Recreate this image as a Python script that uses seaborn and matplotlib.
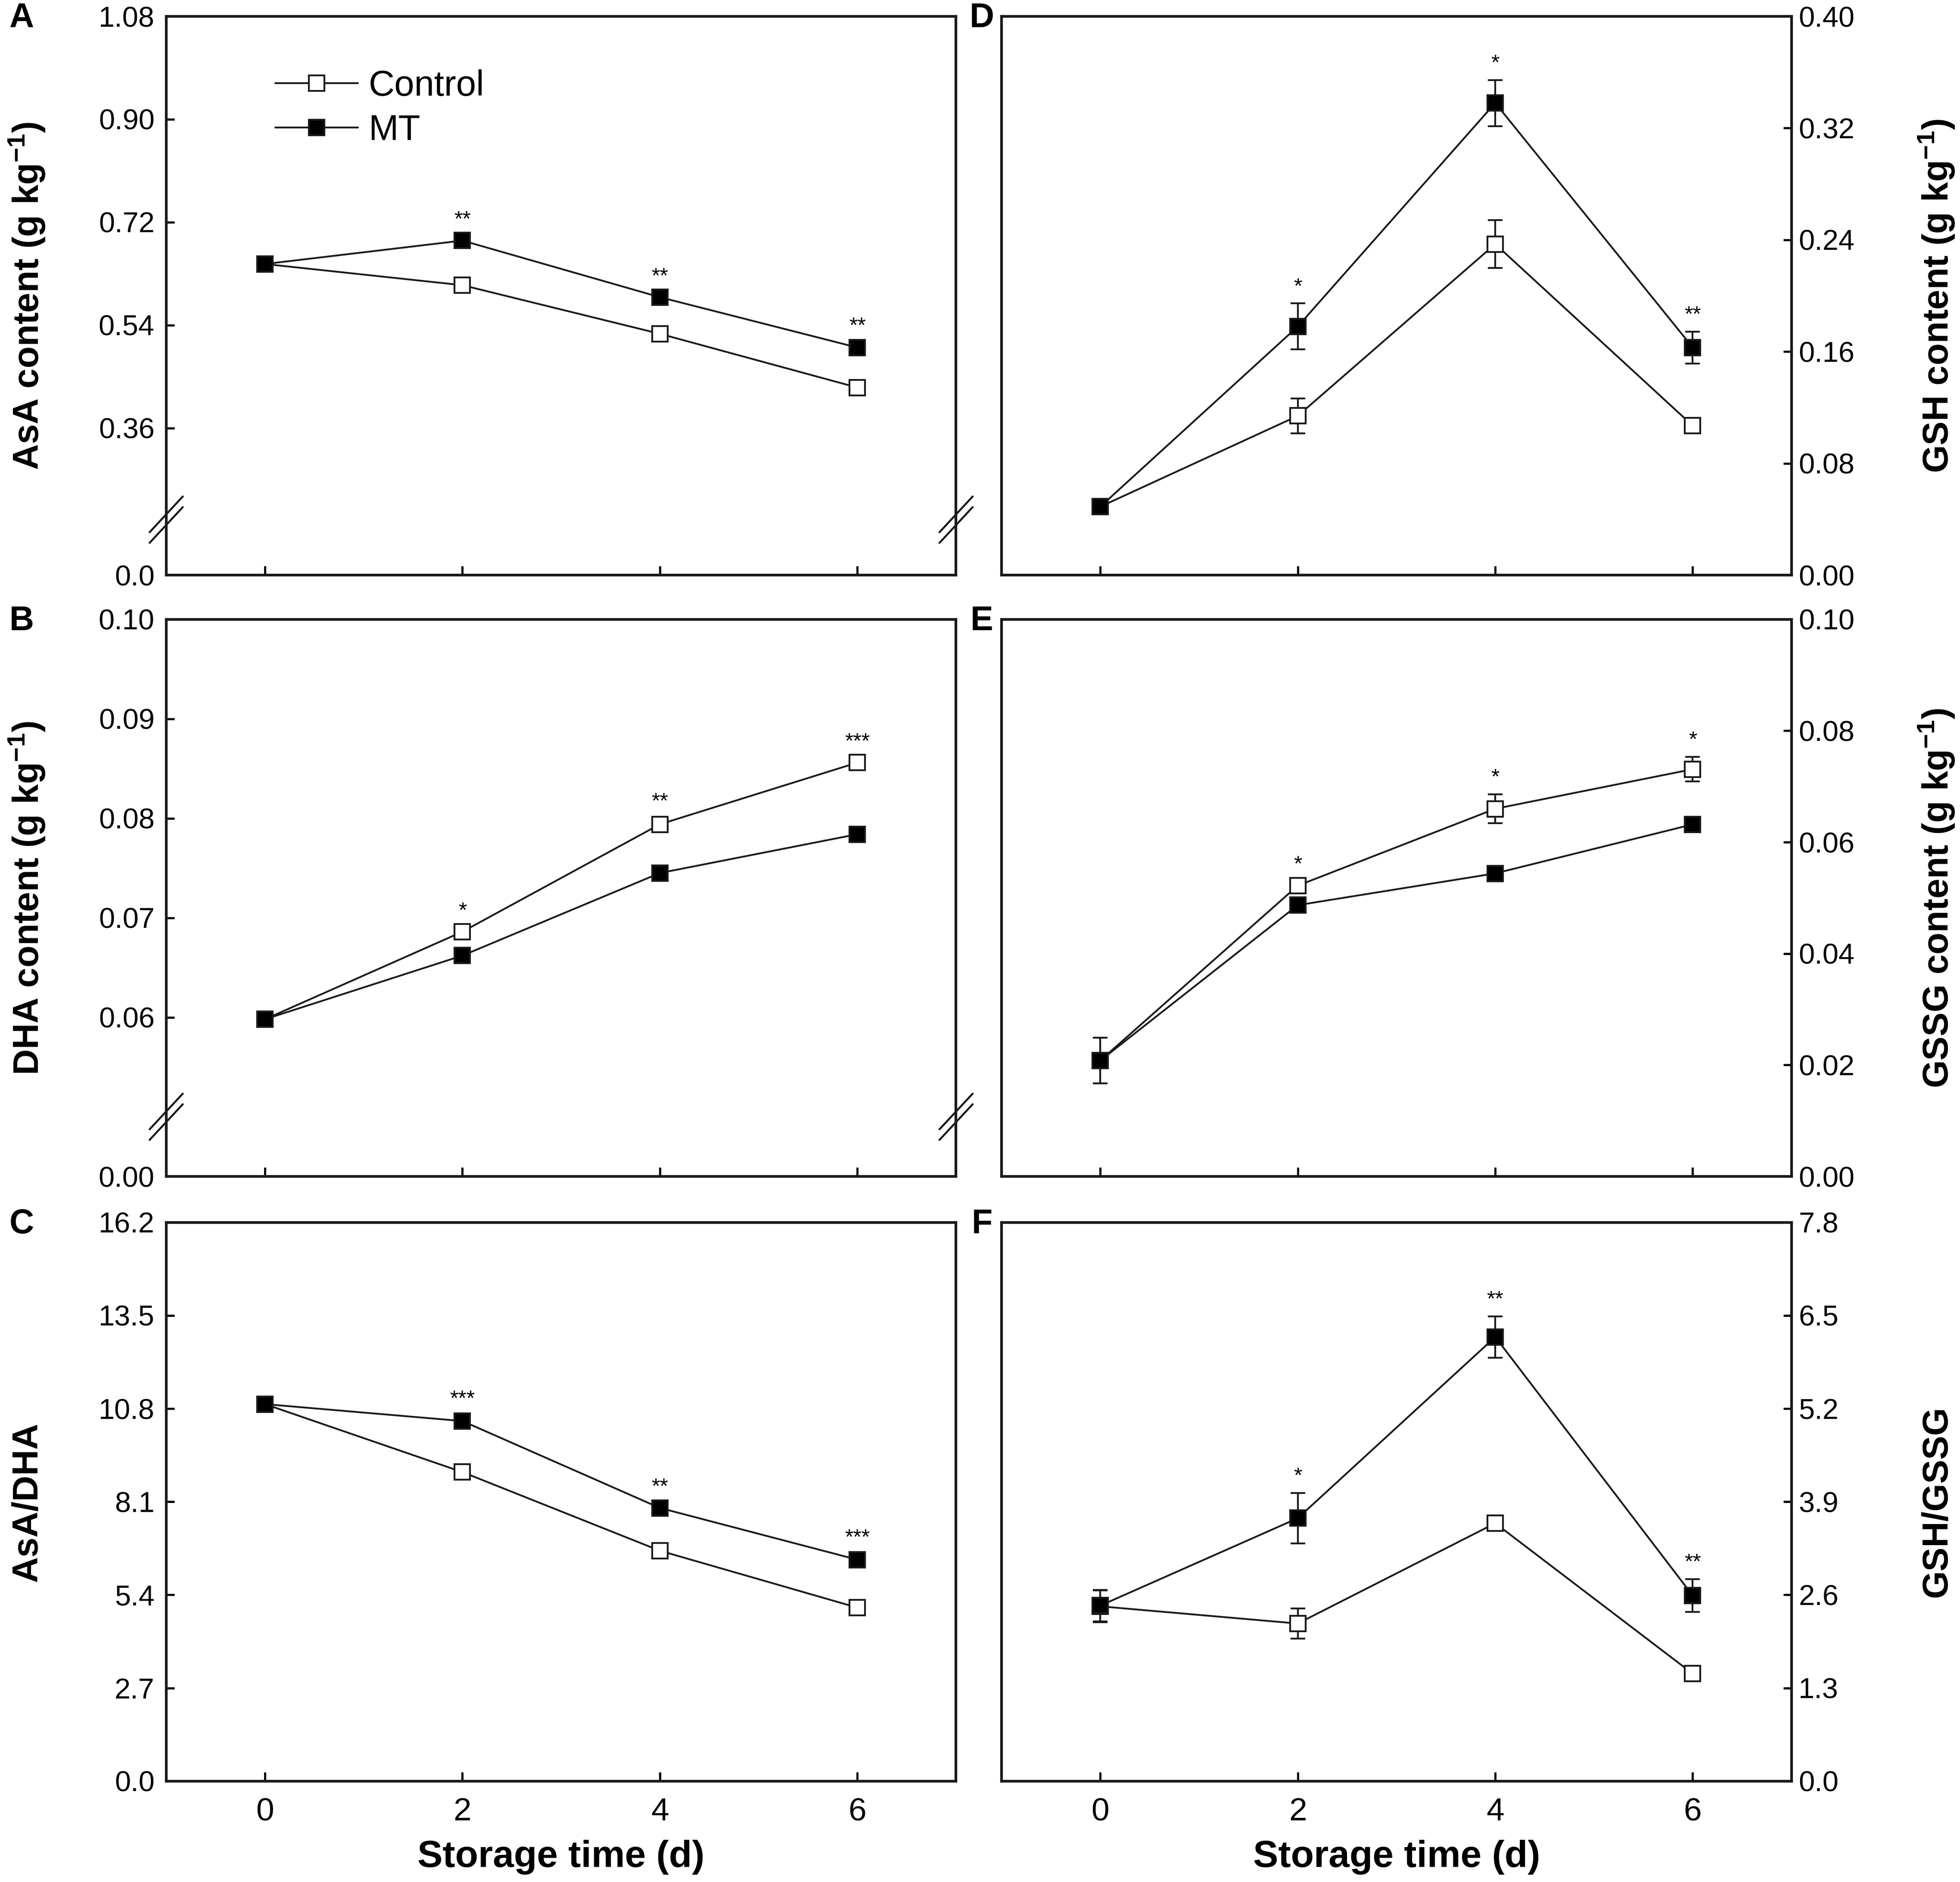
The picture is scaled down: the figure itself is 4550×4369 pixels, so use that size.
import numpy as np
import pandas as pd
import seaborn as sns
import matplotlib.pyplot as plt

sns.set_theme(style='ticks')
plt.rcParams['font.family'] = ['Liberation Sans', 'DejaVu Sans']
plt.rcParams['mathtext.fontset'] = 'custom'
plt.rcParams['mathtext.rm'] = 'Liberation Sans'
plt.rcParams['mathtext.bf'] = 'Liberation Sans:bold'
plt.rcParams['mathtext.default'] = 'bf'
plt.rcParams['axes.edgecolor'] = 'black'
plt.rcParams['text.color'] = 'black'
plt.rcParams['axes.labelcolor'] = 'black'
plt.rcParams['xtick.color'] = 'black'
plt.rcParams['ytick.color'] = 'black'

days = [0, 2, 4, 6]

# A - AsA content
asa_ctrl = [0.647, 0.610, 0.525, 0.431]
asa_ctrl_err = [0.006, 0.007, 0.007, 0.008]
asa_mt = [0.647, 0.688, 0.589, 0.501]
asa_mt_err = [0.008, 0.007, 0.007, 0.008]
asa_sig = ['', '**', '**', '**']
asa_ticks = [0.0, 0.36, 0.54, 0.72, 0.90, 1.08]
asa_ticklabels = ['0.0', '0.36', '0.54', '0.72', '0.90', '1.08']

# B - DHA content
dha_ctrl = [0.0598, 0.0686, 0.0794, 0.0856]
dha_ctrl_err = [0.0003, 0.0004, 0.0006, 0.0004]
dha_mt = [0.0598, 0.0662, 0.0745, 0.0784]
dha_mt_err = [0.0003, 0.0003, 0.0004, 0.0004]
dha_sig = ['', '*', '**', '***']
dha_ticks = [0.0, 0.06, 0.07, 0.08, 0.09, 0.10]
dha_ticklabels = ['0.00', '0.06', '0.07', '0.08', '0.09', '0.10']

# C - AsA/DHA
ratio_a_ctrl = [10.93, 8.96, 6.68, 5.03]
ratio_a_ctrl_err = [0.15, 0.15, 0.15, 0.15]
ratio_a_mt = [10.93, 10.44, 7.92, 6.42]
ratio_a_mt_err = [0.15, 0.15, 0.12, 0.15]
ratio_a_sig = ['', '***', '**', '***']
ratio_a_ticks = [0.0, 2.7, 5.4, 8.1, 10.8, 13.5, 16.2]
ratio_a_ticklabels = ['0.0', '2.7', '5.4', '8.1', '10.8', '13.5', '16.2']

# D - GSH content
gsh_ctrl = [0.049, 0.114, 0.237, 0.107]
gsh_ctrl_err = [0.003, 0.0124, 0.0172, 0.003]
gsh_mt = [0.049, 0.178, 0.338, 0.163]
gsh_mt_err = [0.004, 0.0165, 0.0165, 0.0114]
gsh_sig = ['', '*', '*', '**']
gsh_ticks = [0.0, 0.08, 0.16, 0.24, 0.32, 0.40]
gsh_ticklabels = ['0.00', '0.08', '0.16', '0.24', '0.32', '0.40']

# E - GSSG content
gssg_ctrl = [0.0208, 0.0522, 0.0660, 0.0731]
gssg_ctrl_err = [0.0041, 0.0008, 0.0026, 0.0022]
gssg_mt = [0.0208, 0.0487, 0.0544, 0.0632]
gssg_mt_err = [0.0041, 0.0008, 0.0007, 0.0008]
gssg_sig = ['', '*', '*', '*']
gssg_ticks = [0.0, 0.02, 0.04, 0.06, 0.08, 0.10]
gssg_ticklabels = ['0.00', '0.02', '0.04', '0.06', '0.08', '0.10']

# F - GSH/GSSG
ratio_g_ctrl = [2.44, 2.20, 3.60, 1.50]
ratio_g_ctrl_err = [0.22, 0.21, 0.11, 0.05]
ratio_g_mt = [2.45, 3.67, 6.20, 2.59]
ratio_g_mt_err = [0.22, 0.35, 0.29, 0.23]
ratio_g_sig = ['', '*', '**', '**']
ratio_g_ticks = [0.0, 1.3, 2.6, 3.9, 5.2, 6.5, 7.8]
ratio_g_ticklabels = ['0.0', '1.3', '2.6', '3.9', '5.2', '6.5', '7.8']


def broken_scale(b, k):
    # compress the part of the axis below b (axis break)
    def fwd(v):
        v = np.asarray(v, dtype=float)
        return np.where(v >= b, v, b - (b - v) * k)

    def inv(v):
        v = np.asarray(v, dtype=float)
        return np.where(v >= b, v, b - (b - v) / k)
    return fwd, inv


def break_marks(ax, b):
    yb = ax.transAxes.inverted().transform(ax.transData.transform((0, b)))[1]
    for xs in (0, 1):
        for off in (-0.0095, 0.0095):
            ax.plot([xs - 0.021, xs + 0.021], [yb + off - 0.032, yb + off + 0.032],
                    transform=ax.transAxes, color='k', lw=1.1, clip_on=False, zorder=5)


def panel(ax, ctrl, ctrl_err, mt, mt_err, sig, ticks, ticklabels, ylabel,
          right=False, bottom=False, brk=None):
    if brk is not None:
        ax.set_yscale('function', functions=broken_scale(*brk))
    ax.errorbar(days, ctrl, yerr=ctrl_err, fmt='none', ecolor='k', elinewidth=1,
                capsize=4, capthick=1, zorder=2)
    ax.errorbar(days, mt, yerr=mt_err, fmt='none', ecolor='k', elinewidth=1,
                capsize=4, capthick=1, zorder=2)
    df = pd.DataFrame({'day': days * 2, 'value': ctrl + mt,
                       'group': ['Control'] * 4 + ['MT'] * 4})
    sns.lineplot(data=df[df.group == 'Control'], x='day', y='value', ax=ax,
                 color='k', lw=1, marker='s', markersize=8.5, mfc='white', mec='k',
                 mew=1, errorbar=None, label='Control', legend=False, zorder=3)
    sns.lineplot(data=df[df.group == 'MT'], x='day', y='value', ax=ax,
                 color='k', lw=1, marker='s', markersize=8.5, mfc='black', mec='k',
                 mew=1, errorbar=None, label='MT', legend=False, zorder=3)

    ax.set_xlim(-1, 7)
    ax.set_ylim(ticks[0], ticks[-1])
    ax.set_xticks(days)
    ax.set_yticks(ticks)
    ax.set_yticklabels(ticklabels)
    ax.minorticks_off()
    for s in ax.spines.values():
        s.set_linewidth(1.5)
        s.set_color('k')
    ax.tick_params(axis='x', direction='in', length=5, width=1.2, labelsize=18, pad=9,
                   top=False, labelbottom=bottom)
    if right:
        ax.yaxis.tick_right()
        ax.yaxis.set_label_position('right')
        ax.tick_params(axis='y', direction='in', length=4.5, width=1.2, labelsize=16,
                       pad=4, left=False, right=True, labelleft=False, labelright=True)
    else:
        ax.tick_params(axis='y', direction='in', length=4.5, width=1.2, labelsize=16,
                       pad=6.5, right=False)

    ax.set_ylabel(ylabel, fontsize=20, fontweight='bold', va='center')
    ax.yaxis.set_label_coords(1.184 if right else -0.176, 0.5)
    if bottom:
        ax.set_xlabel('Storage time (d)', fontsize=21, fontweight='bold')
        ax.xaxis.set_label_coords(0.5, -0.105)
    else:
        ax.set_xlabel('')

    for x, c, ce, m, me, s in zip(days, ctrl, ctrl_err, mt, mt_err, sig):
        if s:
            top = max(c + ce, m + me)
            ax.annotate(s, (x, top), xytext=(0, 9), textcoords='offset points',
                        ha='center', va='center', fontsize=12)
    if brk is not None:
        break_marks(ax, brk[0])


fig = plt.figure(figsize=(4550 / 300, 4369 / 300), dpi=300)
lx, rx, w = 0.0848, 0.511, 0.403
rows = [(0.6944, 0.2969), (0.3749, 0.2960), (0.0536, 0.2969)]

ax_a = fig.add_axes([lx, rows[0][0], w, rows[0][1]])
ax_b = fig.add_axes([lx, rows[1][0], w, rows[1][1]])
ax_c = fig.add_axes([lx, rows[2][0], w, rows[2][1]])
ax_d = fig.add_axes([rx, rows[0][0], w, rows[0][1]])
ax_e = fig.add_axes([rx, rows[1][0], w, rows[1][1]])
ax_f = fig.add_axes([rx, rows[2][0], w, rows[2][1]])

panel(ax_a, asa_ctrl, asa_ctrl_err, asa_mt, asa_mt_err, asa_sig, asa_ticks,
      asa_ticklabels, r'AsA content (g kg$^{-1}$)', brk=(0.2, 0.485))
panel(ax_b, dha_ctrl, dha_ctrl_err, dha_mt, dha_mt_err, dha_sig, dha_ticks,
      dha_ticklabels, r'DHA content (g kg$^{-1}$)', brk=(0.05, 0.12))
panel(ax_c, ratio_a_ctrl, ratio_a_ctrl_err, ratio_a_mt, ratio_a_mt_err, ratio_a_sig,
      ratio_a_ticks, ratio_a_ticklabels, 'AsA/DHA', bottom=True)
panel(ax_d, gsh_ctrl, gsh_ctrl_err, gsh_mt, gsh_mt_err, gsh_sig, gsh_ticks,
      gsh_ticklabels, r'GSH content (g kg$^{-1}$)', right=True)
panel(ax_e, gssg_ctrl, gssg_ctrl_err, gssg_mt, gssg_mt_err, gssg_sig, gssg_ticks,
      gssg_ticklabels, r'GSSG content (g kg$^{-1}$)', right=True)
panel(ax_f, ratio_g_ctrl, ratio_g_ctrl_err, ratio_g_mt, ratio_g_mt_err, ratio_g_sig,
      ratio_g_ticks, ratio_g_ticklabels, 'GSH/GSSG', right=True, bottom=True)

handles, labels = ax_a.get_legend_handles_labels()
ax_a.legend(handles, labels, loc='upper left', bbox_to_anchor=(0.138, 0.905),
            frameon=False, fontsize=20, handlelength=2.3, handletextpad=0.3,
            labelspacing=0.3, borderpad=0, borderaxespad=0)

letters = [('A', 0.011, ax_a), ('B', 0.011, ax_b), ('C', 0.011, ax_c),
           ('D', 0.501, ax_d), ('E', 0.501, ax_e), ('F', 0.501, ax_f)]
for txt, x, ax in letters:
    top = ax.get_position().y1
    fig.text(x, top - 0.001, txt, fontsize=19, fontweight='bold', ha='center', va='center')

fig.savefig('out.png', dpi=300)
